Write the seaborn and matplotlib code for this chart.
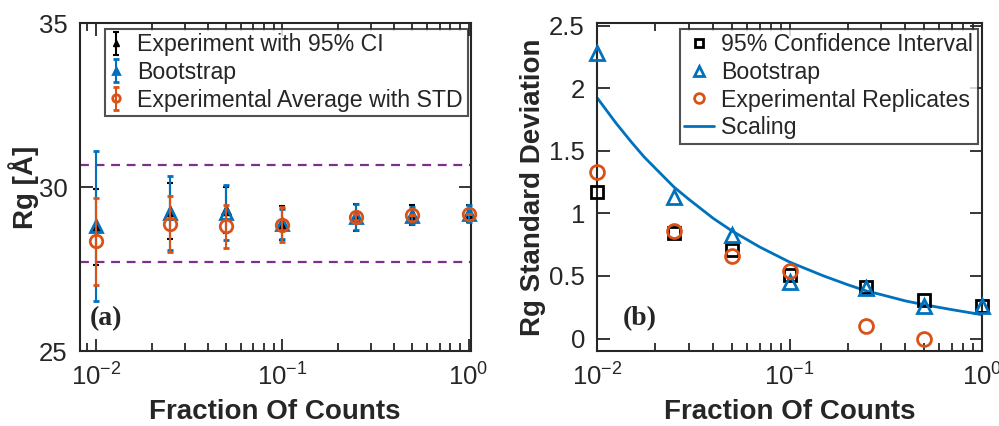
import numpy as np
import matplotlib
matplotlib.use("Agg")
import matplotlib.pyplot as plt
from matplotlib.ticker import NullFormatter
import seaborn as sns

# fraction of counts used
frac = [0.01, 0.025, 0.05, 0.1, 0.25, 0.5, 1.0]

# panel (a): Rg means
rg_exp = [28.78, 29.27, 29.30, 28.90, 29.08, 29.15, 29.20]
rg_boot = [28.82, 29.22, 29.22, 28.88, 29.08, 29.12, 29.18]
rg_avg = [28.35, 28.87, 28.80, 28.85, 29.08, 29.15, 29.18]
limits = [27.71, 30.67]

# panel (b): standard deviations (also used as error bars in (a))
std_ci = [1.17, 0.84, 0.71, 0.51, 0.41, 0.31, 0.26]
std_boot = [2.28, 1.13, 0.83, 0.45, 0.40, 0.26, 0.26]
std_rep = [1.33, 0.86, 0.66, 0.54, 0.10, 0.0, np.nan]

# scaling curve
scale_x = [0.01, 0.0125, 0.015, 0.0175, 0.02, 0.025, 0.03, 0.04, 0.05, 0.07,
           0.1, 0.15, 0.2, 0.25, 0.3, 0.4, 0.5, 0.7, 1.0]
scale_y = [1.92, 1.72, 1.57, 1.45, 1.36, 1.21, 1.11, 0.96, 0.86, 0.73,
           0.61, 0.50, 0.43, 0.38, 0.35, 0.30, 0.27, 0.23, 0.19]

# log minor tick positions
minor_x = [0.008, 0.009, 0.02, 0.03, 0.04, 0.05, 0.06, 0.07, 0.08, 0.09,
           0.2, 0.3, 0.4, 0.5, 0.6, 0.7, 0.8, 0.9]

black = "black"
blue = (0.0, 0.447, 0.741)
orange = (0.85, 0.325, 0.098)
purple = (0.494, 0.184, 0.556)

sns.set_theme(style="ticks")
plt.rcParams["font.family"] = ["Liberation Sans", "DejaVu Sans"]
plt.rcParams["mathtext.default"] = "regular"
plt.rcParams["axes.edgecolor"] = "#262626"
plt.rcParams["axes.linewidth"] = 1.5

fig = plt.figure(figsize=(9.99, 4.26), dpi=100)
ax1 = fig.add_axes([0.080, 0.176, 0.391, 0.770])
ax2 = fig.add_axes([0.598, 0.176, 0.385, 0.770])

# ---- panel (a)
for y in limits:
    ax1.axhline(y, color=purple, ls=(0, (4, 3)), lw=1.6, zorder=1)

ax1.errorbar(frac, rg_exp, yerr=std_ci, fmt="^", color=black, ms=7,
             elinewidth=1.5, capsize=2, capthick=1.5, label="Experiment with 95% CI",
             zorder=3, clip_on=False)
ax1.errorbar(frac, rg_boot, yerr=std_boot, fmt="^", color=blue, mfc="none", ms=8, mew=2,
             elinewidth=1.5, capsize=2, capthick=1.5, label="Bootstrap", zorder=4,
             clip_on=False)
ax1.errorbar(frac, rg_avg, yerr=np.nan_to_num(std_rep), fmt="o", color=orange, mfc="none",
             ms=9, mew=2, elinewidth=1.5, capsize=2, capthick=1.5,
             label="Experimental Average with STD", zorder=5, clip_on=False)

ax1.set_xscale("log")
ax1.set_xlim(0.0082, 1.025)
ax1.set_ylim(25, 35)
ax1.set_yticks([25, 30, 35])
ax1.set_xlabel("Fraction Of Counts", fontsize=20, fontweight="bold", labelpad=6)
ax1.set_ylabel("Rg [Å]", fontsize=20, fontweight="bold", labelpad=0)
ax1.text(0.025, 0.08, "(a)", transform=ax1.transAxes, fontsize=20,
         fontweight="bold", family="Liberation Serif")
leg1 = ax1.legend(loc="upper left", bbox_to_anchor=(0.058, 0.99), fontsize=16.7,
                  frameon=True, fancybox=False, edgecolor="#262626", markerscale=0.6,
                  handlelength=0.6, handletextpad=0.6, borderpad=0.2, labelspacing=0.2,
                  borderaxespad=0.1)
leg1.get_frame().set_linewidth(1.5)

# ---- panel (b)
ax2.plot(frac, std_ci, ls="none", marker="s", ms=8, mfc="none", mec=black, mew=2,
         label="95% Confidence Interval", clip_on=False, zorder=3)
ax2.plot(frac, std_boot, ls="none", marker="^", ms=10, mfc="none", mec=blue, mew=2,
         label="Bootstrap", clip_on=False, zorder=4)
ax2.plot(frac, std_rep, ls="none", marker="o", ms=10, mfc="none", mec=orange, mew=2,
         label="Experimental Replicates", clip_on=False, zorder=5)
sns.lineplot(x=scale_x, y=scale_y, ax=ax2, color=blue, lw=2, label="Scaling")

ax2.set_xscale("log")
ax2.set_xlim(0.01, 1.0)
ax2.set_ylim(-0.1, 2.52)
ax2.set_yticks([0, 0.5, 1, 1.5, 2, 2.5])
ax2.set_yticklabels(["0", "0.5", "1", "1.5", "2", "2.5"])
ax2.set_xlabel("Fraction Of Counts", fontsize=20, fontweight="bold", labelpad=6)
ax2.set_ylabel("Rg Standard Deviation", fontsize=20, fontweight="bold", labelpad=2)
ax2.text(0.065, 0.08, "(b)", transform=ax2.transAxes, fontsize=20,
         fontweight="bold", family="Liberation Serif")
leg2 = ax2.legend(loc="upper right", bbox_to_anchor=(0.995, 0.99), fontsize=16.7,
                  frameon=True, fancybox=False, edgecolor="#262626", markerscale=0.7,
                  handlelength=1.3, handletextpad=0.3, borderpad=0.2, labelspacing=0.2,
                  borderaxespad=0.1)
leg2.get_frame().set_linewidth(1.5)

for ax in (ax1, ax2):
    lo, hi = ax.get_xlim()
    ax.set_xticks([m for m in minor_x if lo <= m <= hi], minor=True)
    ax.xaxis.set_minor_formatter(NullFormatter())
    ax.tick_params(which="both", direction="in", top=True, right=True,
                   labelsize=18.5, width=1.3)
    ax.tick_params(which="major", length=9, pad=9, color="#262626", labelcolor="#262626")
    ax.tick_params(which="minor", length=6, color="#262626")
    for s in ax.spines.values():
        s.set_visible(True)

fig.savefig("out.png", dpi=100)
